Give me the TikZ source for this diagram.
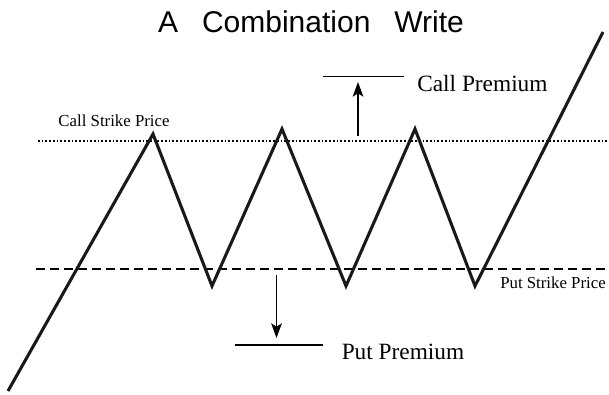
\documentclass[tikz,border=0pt]{standalone}
\usepackage{fontspec}
\setmainfont{Liberation Serif}
\newfontfamily\titlefont{Liberation Sans}
\usetikzlibrary{arrows.meta}
\tikzset{
  payoff/.style={line width=2.3pt, line join=miter, black!90},
  callline/.style={line width=1.5pt, dash pattern=on 1.3pt off 1.5pt},
  putline/.style={line width=1.9pt, dash pattern=on 6.8pt off 3.7pt},
  premline/.style={line width=1.1pt},
  premarrow/.style={line width=1.1pt, -{Stealth[length=11pt,width=8pt,inset=2.5pt]}},
  biglabel/.style={font=\fontsize{17.5pt}{20pt}\selectfont, anchor=base west, inner sep=0pt},
  smalllabel/.style={font=\fontsize{12.6pt}{14pt}\selectfont, anchor=base, inner sep=0pt},
}
\begin{document}
\begin{tikzpicture}[x=0.75pt,y=-0.75pt]
\useasboundingbox (0,0) rectangle (609,394);
% title
\node[font=\titlefont\fontsize{22.5pt}{26pt}\selectfont, anchor=base, inner sep=0pt] (title) at (311,32)
  {A\hspace{18pt}Combination\hspace{18pt}Write};
% strike lines
\coordinate (cs0) at (38,140.5);
\coordinate (cs1) at (609,140.5);
\coordinate (ps0) at (36,269);
\coordinate (ps1) at (609,269);
\draw[callline] (cs0) -- (cs1);
\draw[putline] (ps0) -- (ps1);
% payoff zigzag
\coordinate (z0) at (8,391);
\coordinate (z1) at (153,134);
\coordinate (z2) at (212,286);
\coordinate (z3) at (282,129);
\coordinate (z4) at (346,286);
\coordinate (z5) at (415,129);
\coordinate (z6) at (475,286);
\coordinate (z7) at (603,32);
\draw[payoff] (z0) -- (z1) -- (z2) -- (z3) -- (z4) -- (z5) -- (z6) -- (z7);
% labels
\node[smalllabel] (csp) at (114,126.5) {Call Strike Price};
\node[smalllabel] (psp) at (553,288.3) {Put Strike Price};
% call premium
\coordinate (cl0) at (323,76.5);
\coordinate (cl1) at (404,76.5);
\draw[premline] (cl0) -- (cl1);
\coordinate (ca0) at (358,136);
\coordinate (ca1) at (358,82);
\draw[premarrow] (ca0) -- (ca1);
\node[biglabel] (cp) at (417,91) {Call Premium};
% put premium
\coordinate (pl0) at (235,345);
\coordinate (pl1) at (322.5,345);
\draw[premline] (pl0) -- (pl1);
\coordinate (pa0) at (276.5,275);
\coordinate (pa1) at (276.5,338);
\draw[premarrow] (pa0) -- (pa1);
\node[biglabel] (pp) at (341.5,359) {Put Premium};
\end{tikzpicture}
\end{document}
